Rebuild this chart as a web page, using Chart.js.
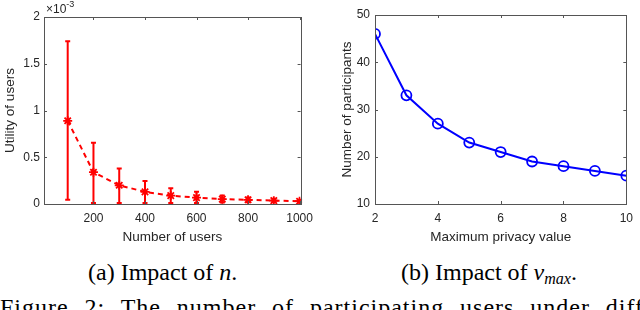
<!DOCTYPE html>
<html>
<head>
<meta charset="utf-8">
<script src="https://cdn.jsdelivr.net/npm/chart.js@4.4.0/dist/chart.umd.min.js"></script>
<style>
  html, body { margin: 0; padding: 0; background: #fff; width: 640px; height: 310px; overflow: hidden; }
  .plot { position: absolute; top: 0; width: 320px; height: 250px; }
  .cap { position: absolute; font-family: "Liberation Serif", serif; font-size: 24px; line-height: 24px; color: #000; white-space: nowrap; }
  .cap sub { font-size: 16px; vertical-align: -4px; }
  #fig { left: 0; top: 295px; width: 697px; letter-spacing: 1px; text-align: justify; text-align-last: justify; }
</style>
</head>
<body>
<div class="plot" style="left:0"><canvas id="c1" width="320" height="250"></canvas></div>
<div class="plot" style="left:320px"><canvas id="c2" width="320" height="250"></canvas></div>
<div class="cap" style="left:88px; top:260px">(a) Impact of <i>n</i>.</div>
<div class="cap" style="left:401px; top:260px">(b) Impact of <i>ν</i><sub><i>max</i></sub>.</div>
<div class="cap" id="fig">Figure 2: The number of participating users under different</div>
<script>
// (a) utility of users vs number of users, values in units of 1e-3
const users = [100, 200, 300, 400, 500, 600, 700, 800, 900, 1000];
const utilMean = [0.89, 0.34, 0.20, 0.13, 0.09, 0.068, 0.052, 0.045, 0.036, 0.03];
const utilLow = [0.045, 0.01, 0.01, 0.01, 0.01, 0.01, 0.015, 0.02, 0.02, 0.02];
const utilHigh = [1.74, 0.655, 0.38, 0.245, 0.168, 0.13, 0.09, 0.07, 0.056, 0.046];
const usersTicks = [200, 400, 600, 800, 1000];
const utilTicks = [0, 0.5, 1, 1.5, 2];

// (b) number of participants vs maximum privacy value
const privMax = [2, 3, 4, 5, 6, 7, 8, 9, 10];
const participants = [46, 33, 27, 23, 21, 19, 18, 17, 16];
const privTicks = [2, 4, 6, 8, 10];
const partTicks = [10, 20, 30, 40, 50];

const txt = '#262626';
const tickFont = { family: 'Liberation Sans', size: 12 };
const titleFont = { family: 'Liberation Sans', size: 13.5 };

// box + inward ticks + optional error bars / exponent
const framePlugin = {
  id: 'frame',
  beforeDatasetsDraw(chart) {
    const eb = chart.options.plugins.frame.errors;
    if (!eb) return;
    const ctx = chart.ctx, xs = chart.scales.x, ys = chart.scales.y;
    ctx.save();
    ctx.strokeStyle = '#ff0000';
    ctx.lineWidth = 2;
    eb.x.forEach((xv, i) => {
      const px = xs.getPixelForValue(xv);
      const lo = ys.getPixelForValue(eb.low[i]);
      const hi = ys.getPixelForValue(eb.high[i]);
      ctx.beginPath();
      ctx.moveTo(px, lo); ctx.lineTo(px, hi);
      ctx.moveTo(px - 2.5, lo); ctx.lineTo(px + 2.5, lo);
      ctx.moveTo(px - 2.5, hi); ctx.lineTo(px + 2.5, hi);
      ctx.stroke();
    });
    ctx.restore();
  },
  afterDraw(chart) {
    const ctx = chart.ctx, a = chart.chartArea;
    const xs = chart.scales.x, ys = chart.scales.y;
    ctx.save();
    ctx.strokeStyle = '#555';
    ctx.lineWidth = 1;
    ctx.strokeRect(Math.round(a.left) + 0.5, Math.round(a.top) + 0.5,
      Math.round(a.right - a.left), Math.round(a.bottom - a.top));
    ctx.beginPath();
    xs.ticks.forEach(t => {
      const px = Math.round(xs.getPixelForValue(t.value)) + 0.5;
      ctx.moveTo(px, a.bottom); ctx.lineTo(px, a.bottom - 3);
      ctx.moveTo(px, a.top); ctx.lineTo(px, a.top + 3);
    });
    ys.ticks.forEach(t => {
      const py = Math.round(ys.getPixelForValue(t.value)) + 0.5;
      ctx.moveTo(a.left, py); ctx.lineTo(a.left + 3, py);
      ctx.moveTo(a.right, py); ctx.lineTo(a.right - 3, py);
    });
    ctx.stroke();
    if (chart.options.plugins.frame.exponent) {
      ctx.fillStyle = txt;
      ctx.textBaseline = 'alphabetic';
      ctx.font = '12px "Liberation Sans"';
      ctx.fillText('\u00d710', a.left + 2, a.top - 4);
      const w = ctx.measureText('\u00d710').width;
      ctx.font = '9px "Liberation Sans"';
      ctx.fillText('-3', a.left + 2 + w, a.top - 10);
    }
    ctx.restore();
  }
};

function makeScales(o) {
  return {
    x: {
      type: 'linear', min: o.xmin, max: o.xmax,
      afterBuildTicks: s => { s.ticks = o.xticks.map(v => ({ value: v })); },
      afterFit: s => { s.height = 46; },
      grid: { display: false, drawTicks: false },
      border: { display: false },
      ticks: { font: tickFont, color: txt, padding: 7, maxRotation: 0, callback: v => String(v) },
      title: { display: true, text: o.xtitle, font: titleFont, color: txt, padding: { top: 0, bottom: 5 } }
    },
    y: {
      type: 'linear', min: o.ymin, max: o.ymax,
      afterBuildTicks: s => { s.ticks = o.yticks.map(v => ({ value: v })); },
      afterFit: s => { s.width = o.ywidth; },
      grid: { display: false, drawTicks: false },
      border: { display: false },
      ticks: { font: tickFont, color: txt, padding: o.ypad, callback: v => String(v) },
      title: { display: true, text: o.ytitle, font: titleFont, color: txt, padding: { top: o.ytpad, bottom: 0 } }
    }
  };
}

new Chart(document.getElementById('c1'), {
  type: 'scatter',
  data: {
    datasets: [{
      data: users.map((x, i) => ({ x: x, y: utilMean[i] })),
      showLine: true,
      borderColor: '#ff0000',
      borderWidth: 2,
      borderDash: [5, 4],
      pointStyle: 'star',
      pointRadius: 4.5,
      pointBorderWidth: 1.8,
      pointBorderColor: '#ff0000',
      pointBackgroundColor: '#ff0000'
    }]
  },
  options: {
    responsive: false,
    animation: false,
    layout: { padding: { top: 17, right: 18, left: 0, bottom: 0 } },
    plugins: {
      legend: { display: false }, tooltip: { enabled: false },
      frame: { exponent: true, errors: { x: users, low: utilLow, high: utilHigh } }
    },
    scales: makeScales({
      xmin: 8, xmax: 1004, xticks: usersTicks, xtitle: 'Number of users',
      ymin: 0, ymax: 2, yticks: utilTicks, ytitle: 'Utility of users',
      ywidth: 44, ypad: 4, ytpad: 2
    })
  },
  plugins: [framePlugin]
});

new Chart(document.getElementById('c2'), {
  type: 'scatter',
  data: {
    datasets: [{
      data: privMax.map((x, i) => ({ x: x, y: participants[i] })),
      showLine: true,
      borderColor: '#0000ff',
      borderWidth: 2,
      pointStyle: 'circle',
      pointRadius: 5,
      pointBorderWidth: 1.8,
      pointBorderColor: '#0000ff',
      pointBackgroundColor: 'rgba(0,0,0,0)'
    }]
  },
  options: {
    responsive: false,
    animation: false,
    layout: { padding: { top: 15, right: 7, left: 0, bottom: 0 } },
    plugins: {
      legend: { display: false }, tooltip: { enabled: false },
      frame: {}
    },
    scales: makeScales({
      xmin: 2, xmax: 10, xticks: privTicks, xtitle: 'Maximum privacy value',
      ymin: 10, ymax: 50, yticks: partTicks, ytitle: 'Number of participants',
      ywidth: 55, ypad: 5, ytpad: 19
    })
  },
  plugins: [framePlugin]
});
</script>
</body>
</html>
